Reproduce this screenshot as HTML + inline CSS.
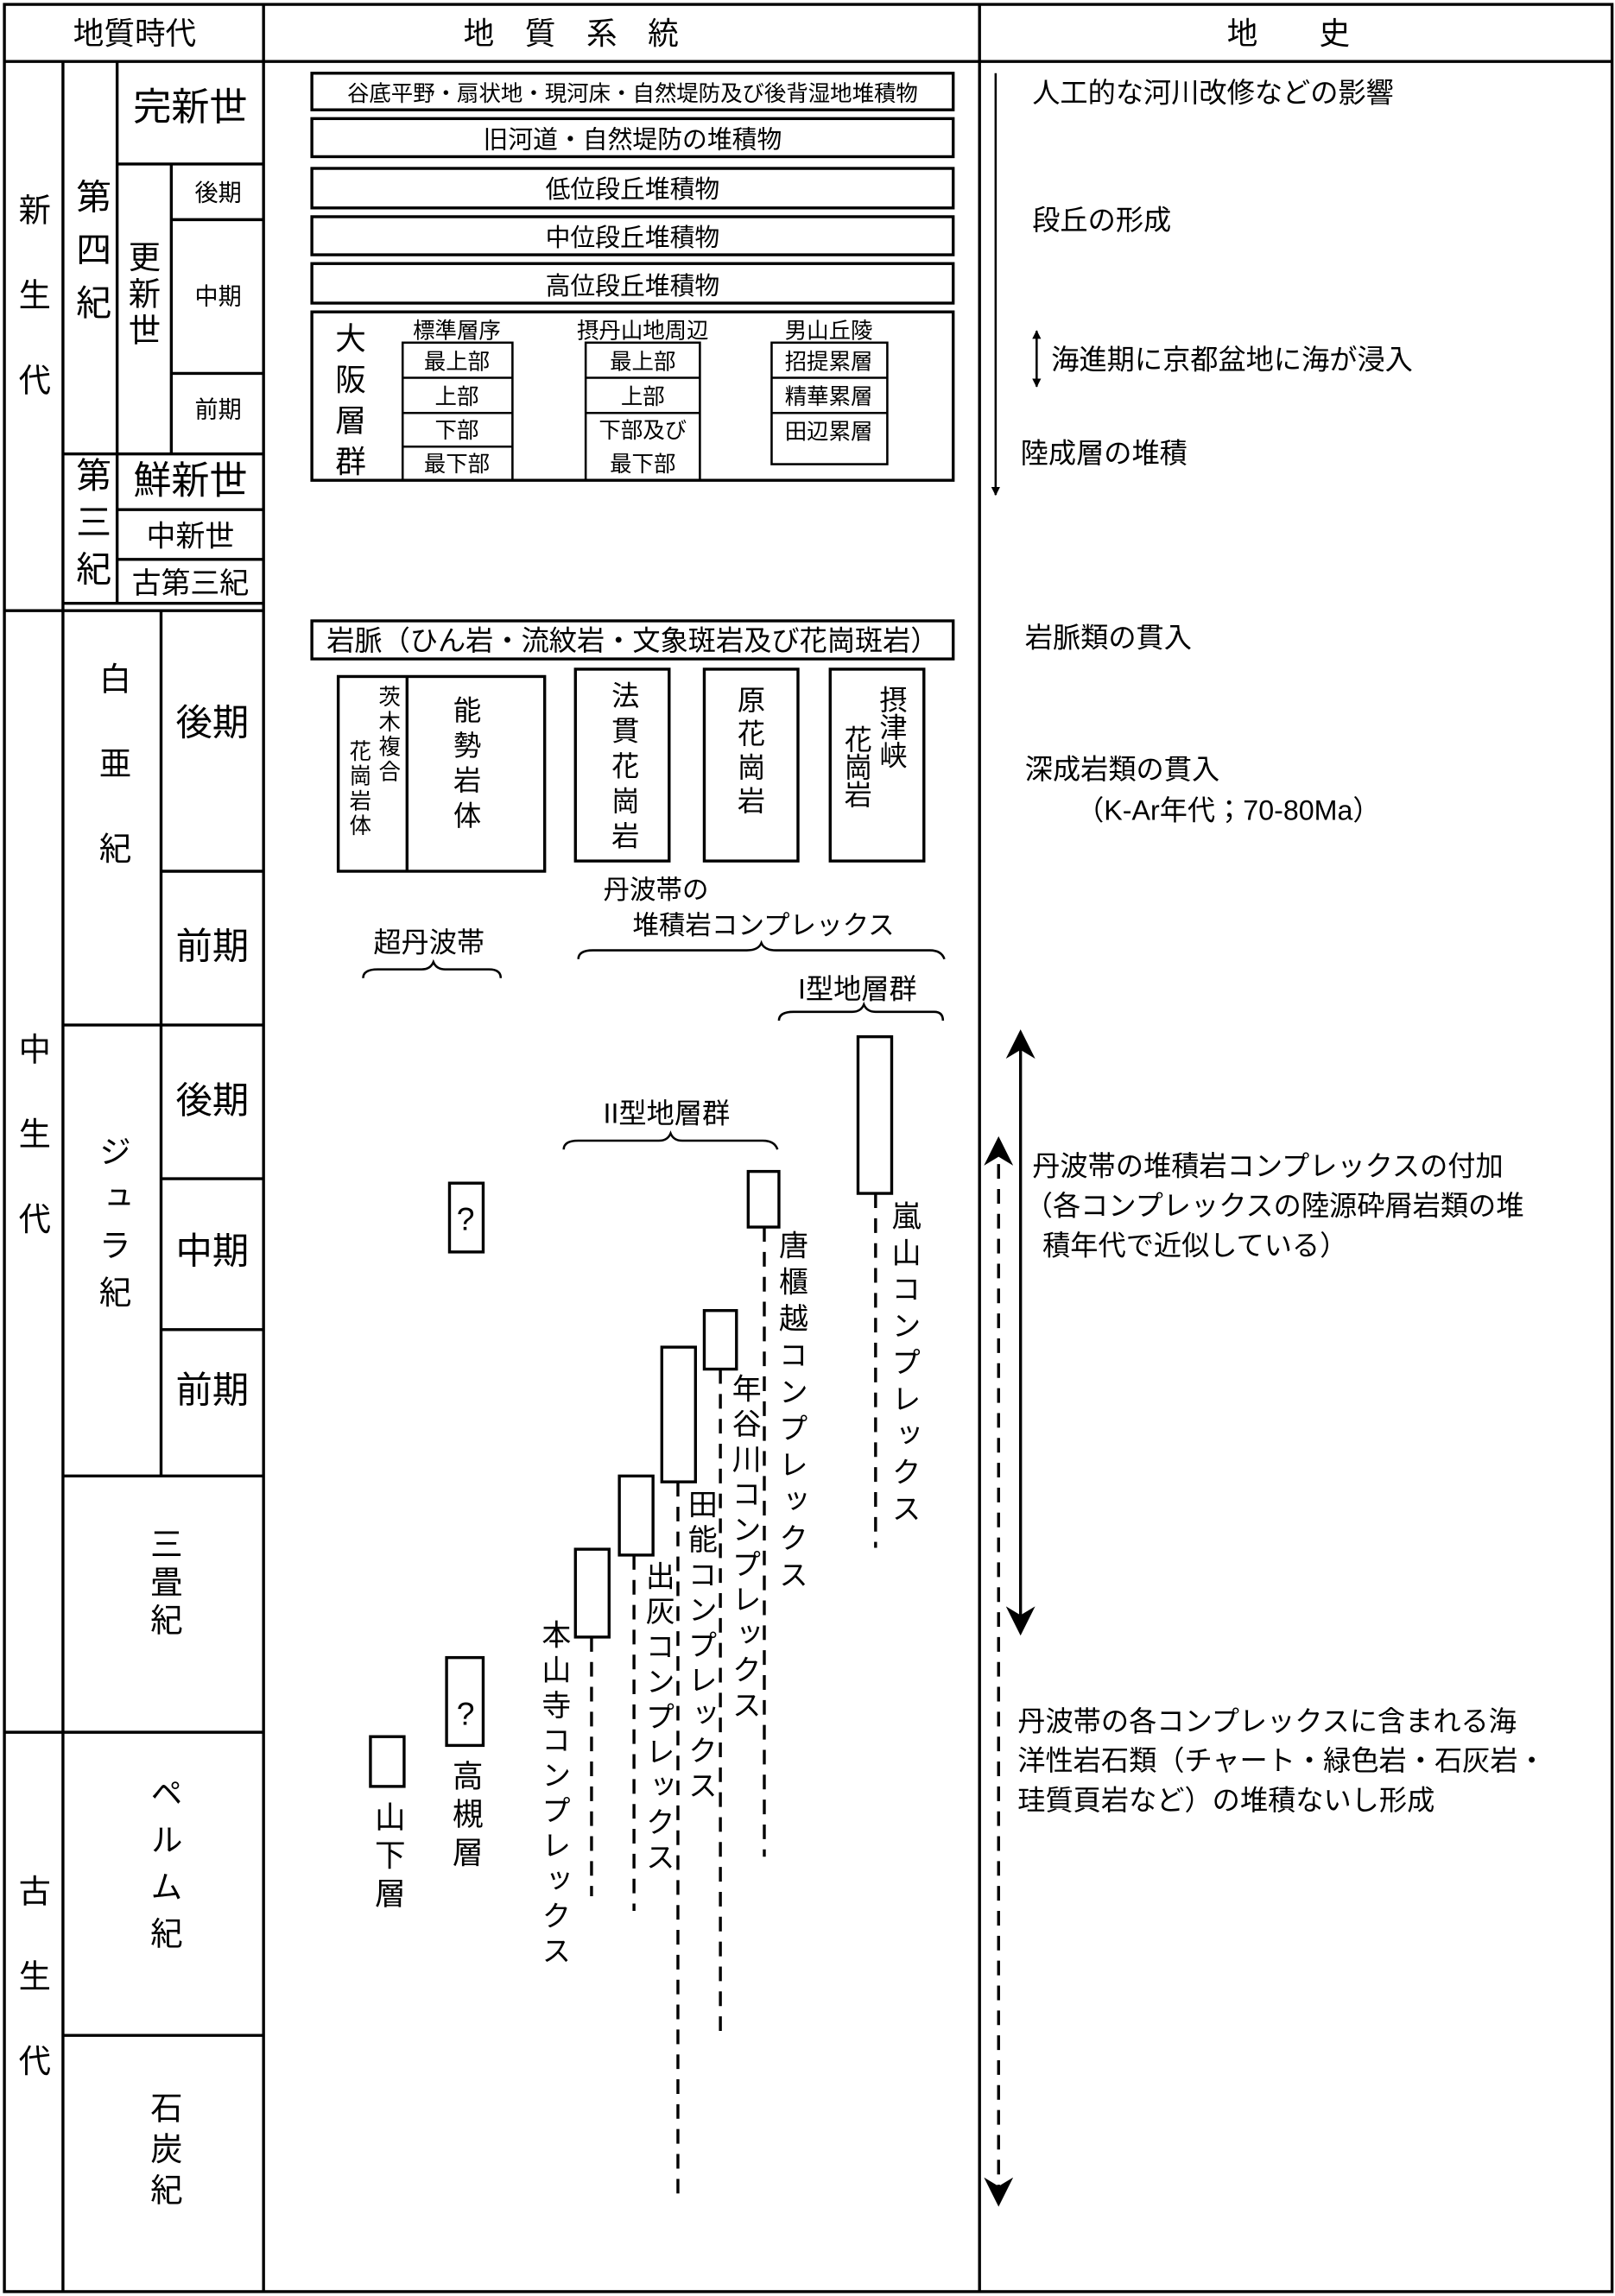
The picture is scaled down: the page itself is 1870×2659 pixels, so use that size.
<!DOCTYPE html>
<html><head><meta charset="utf-8"><style>
html,body{margin:0;padding:0;background:#fff}
svg{display:block}
text{font-family:"Liberation Sans","Noto Sans CJK JP",sans-serif;fill:#000}
.v{writing-mode:vertical-rl;text-anchor:start}
.c{text-anchor:middle}
</style></head><body>
<svg width="1870" height="2659" viewBox="0 0 1103 1568" preserveAspectRatio="none" xmlns="http://www.w3.org/2000/svg">
<defs>
<marker id="ah" viewBox="0 0 10 10" refX="9" refY="5" markerWidth="10" markerHeight="10" orient="auto-start-reverse"><path d="M0,0 L10,5 L0,10 L3,5z" fill="#000"/></marker>
<marker id="sh" viewBox="0 0 10 10" refX="9" refY="5" markerWidth="4" markerHeight="4" orient="auto-start-reverse"><path d="M0,0 L10,5 L0,10z" fill="#000"/></marker>
</defs>
<g fill="none" stroke="#000" stroke-width="2">
<rect x="3" y="3" width="1098" height="1562"/>
<line x1="3" y1="42" x2="1101" y2="42"/>
<line x1="180" y1="3" x2="180" y2="1565"/>
<line x1="669" y1="3" x2="669" y2="1565"/>
<line x1="43" y1="42" x2="43" y2="1565"/>
<line x1="3" y1="417" x2="180" y2="417"/>
<line x1="3" y1="1183" x2="180" y2="1183"/>
<line x1="80" y1="42" x2="80" y2="412"/>
<line x1="80" y1="112" x2="180" y2="112"/>
<line x1="117" y1="112" x2="117" y2="310"/>
<line x1="117" y1="150" x2="180" y2="150"/>
<line x1="117" y1="255" x2="180" y2="255"/>
<line x1="43" y1="310" x2="180" y2="310"/>
<line x1="80" y1="348" x2="180" y2="348"/>
<line x1="80" y1="382" x2="180" y2="382"/>
<line x1="43" y1="412" x2="180" y2="412"/>
<line x1="110" y1="417" x2="110" y2="1008"/>
<line x1="110" y1="595" x2="180" y2="595"/>
<line x1="43" y1="700" x2="180" y2="700"/>
<line x1="110" y1="805" x2="180" y2="805"/>
<line x1="110" y1="908" x2="180" y2="908"/>
<line x1="43" y1="1008" x2="180" y2="1008"/>
<line x1="43" y1="1390" x2="180" y2="1390"/>
<rect x="213" y="50" width="438" height="25"/>
<rect x="213" y="81" width="438" height="26"/>
<rect x="213" y="115" width="438" height="27"/>
<rect x="213" y="148" width="438" height="26"/>
<rect x="213" y="180" width="438" height="27"/>
<rect x="213" y="213" width="438" height="115"/>
<rect x="275" y="234" width="75" height="94" stroke-width="1.5"/>
<line x1="275" y1="258" x2="350" y2="258" stroke-width="1.5"/>
<line x1="275" y1="282" x2="350" y2="282" stroke-width="1.5"/>
<line x1="275" y1="305" x2="350" y2="305" stroke-width="1.5"/>
<rect x="400" y="234" width="78" height="94" stroke-width="1.5"/>
<line x1="400" y1="258" x2="478" y2="258" stroke-width="1.5"/>
<line x1="400" y1="282" x2="478" y2="282" stroke-width="1.5"/>
<rect x="527" y="234" width="79" height="83" stroke-width="1.5"/>
<line x1="527" y1="258" x2="606" y2="258" stroke-width="1.5"/>
<line x1="527" y1="282" x2="606" y2="282" stroke-width="1.5"/>
<rect x="213" y="424" width="438" height="26"/>
<rect x="231" y="462" width="141" height="133"/>
<line x1="278" y1="462" x2="278" y2="595"/>
<rect x="393" y="457" width="64" height="131"/>
<rect x="481" y="457" width="64" height="131"/>
<rect x="567" y="457" width="64" height="131"/>
<path d="M248,668 q0,-6 10,-6 h30 q6,0 8,-5 q2,5 8,5 h30 q8,0 8,6" stroke-width="1.5"/>
<path d="M395,655 q0,-6 10,-6 h105 q8,0 10,-5 q2,5 10,5 h105 q8,0 10,6" stroke-width="1.5"/>
<path d="M532,697 q0,-6 10,-6 h40 q6,0 8,-5 q2,5 8,5 h40 q6,0 6,6" stroke-width="1.5"/>
<path d="M385,785 q0,-6 10,-6 h55 q6,0 8,-5 q2,5 8,5 h55 q8,0 10,6" stroke-width="1.5"/>
<rect x="586" y="708" width="23" height="107"/>
<rect x="511" y="800" width="21" height="38"/>
<rect x="481" y="895" width="22" height="40"/>
<rect x="452" y="920" width="23" height="92"/>
<rect x="423" y="1008" width="23" height="54"/>
<rect x="393" y="1058" width="23" height="60"/>
<rect x="307" y="808" width="23" height="47"/>
<rect x="305" y="1132" width="25" height="60"/>
<rect x="253" y="1186" width="23" height="34"/>
<g stroke-dasharray="10,7">
<line x1="598" y1="815" x2="598" y2="1057"/>
<line x1="522" y1="838" x2="522" y2="1268"/>
<line x1="492" y1="935" x2="492" y2="1387"/>
<line x1="463" y1="1012" x2="463" y2="1505"/>
<line x1="433" y1="1062" x2="433" y2="1305"/>
<line x1="404" y1="1118" x2="404" y2="1295"/>
<line x1="682" y1="778" x2="682" y2="1505" marker-start="url(#ah)" marker-end="url(#ah)"/>
</g>
<line x1="680" y1="50" x2="680" y2="338" stroke-width="1.5" marker-end="url(#sh)"/>
<line x1="708" y1="226" x2="708" y2="264" stroke-width="1.5" marker-start="url(#sh)" marker-end="url(#sh)"/>
<line x1="697" y1="705" x2="697" y2="1115" marker-start="url(#ah)" marker-end="url(#ah)"/>
</g>
<g font-size="21">
<text x="92" y="30" class="c">地質時代</text>
<text x="390" y="30" class="c">地　質　系　統</text>
<text x="880" y="30" class="c">地　　史</text>
</g>
<g font-size="22">
<text x="22" y="132" class="v" letter-spacing="36">新生代</text>
<text x="22" y="705" class="v" letter-spacing="36">中生代</text>
<text x="22" y="1280" class="v" letter-spacing="36">古生代</text>
<text x="62" y="122" class="v" font-size="24" letter-spacing="12">第四紀</text>
<text x="62" y="312" class="v" font-size="24" letter-spacing="8">第三紀</text>
<text x="97" y="164" class="v" letter-spacing="3">更新世</text>
<text x="130" y="82" class="c" font-size="26">完新世</text>
<text x="130" y="337" class="c" font-size="26">鮮新世</text>
<text x="130" y="373" class="c" font-size="20">中新世</text>
<text x="130" y="405" class="c" font-size="20">古第三紀</text>
<text x="149" y="137" class="c" font-size="16">後期</text>
<text x="149" y="208" class="c" font-size="16">中期</text>
<text x="149" y="285" class="c" font-size="16">前期</text>
<text x="77" y="452" class="v" letter-spacing="36">白亜紀</text>
<text x="77" y="775" class="v" letter-spacing="10">ジュラ紀</text>
<text x="112" y="1043" class="v" letter-spacing="4">三畳紀</text>
<text x="112" y="1213" class="v" letter-spacing="10">ペルム紀</text>
<text x="112" y="1428" class="v" letter-spacing="6">石炭紀</text>
<text x="145" y="502" class="c" font-size="25">後期</text>
<text x="145" y="655" class="c" font-size="25">前期</text>
<text x="145" y="760" class="c" font-size="25">後期</text>
<text x="145" y="863" class="c" font-size="25">中期</text>
<text x="145" y="958" class="c" font-size="25">前期</text>
</g>
<g font-size="16">
<text x="432" y="69" class="c" font-size="15">谷底平野・扇状地・現河床・自然堤防及び後背湿地堆積物</text>
<text x="432" y="101" class="c" font-size="17">旧河道・自然堤防の堆積物</text>
<text x="432" y="135" class="c" font-size="17">低位段丘堆積物</text>
<text x="432" y="168" class="c" font-size="17">中位段丘堆積物</text>
<text x="432" y="201" class="c" font-size="17">高位段丘堆積物</text>
<text x="238" y="220" class="v" font-size="21" letter-spacing="7">大阪層群</text>
<text x="312" y="231" class="c" font-size="15">標準層序</text>
<text x="439" y="231" class="c" font-size="15">摂丹山地周辺</text>
<text x="566" y="231" class="c" font-size="15">男山丘陵</text>
<text x="312" y="252" class="c" font-size="15">最上部</text>
<text x="312" y="276" class="c" font-size="15">上部</text>
<text x="312" y="299" class="c" font-size="15">下部</text>
<text x="312" y="322" class="c" font-size="15">最下部</text>
<text x="439" y="252" class="c" font-size="15">最上部</text>
<text x="439" y="276" class="c" font-size="15">上部</text>
<text x="439" y="299" class="c" font-size="15">下部及び</text>
<text x="439" y="322" class="c" font-size="15">最下部</text>
<text x="566" y="252" class="c" font-size="15">招提累層</text>
<text x="566" y="276" class="c" font-size="15">精華累層</text>
<text x="566" y="300" class="c" font-size="15">田辺累層</text>
<text x="432" y="444" class="c" font-size="19">岩脈（ひん岩・流紋岩・文象斑岩及び花崗斑岩）</text>
<text x="265" y="468" class="v" font-size="15" letter-spacing="2">茨木複合</text>
<text x="245" y="505" class="v" font-size="15" letter-spacing="2">花崗岩体</text>
<text x="318" y="475" class="v" font-size="19" letter-spacing="5">能勢岩体</text>
<text x="426" y="465" class="v" font-size="19" letter-spacing="5">法貫花崗岩</text>
<text x="512" y="468" class="v" font-size="19" letter-spacing="4">原花崗岩</text>
<text x="609" y="468" class="v" font-size="19">摂津峡</text>
<text x="585" y="495" class="v" font-size="19">花崗岩</text>
<text x="293" y="650" class="c" font-size="19">超丹波帯</text>
<text x="412" y="614" font-size="18">丹波帯の</text>
<text x="432" y="638" font-size="18">堆積岩コンプレックス</text>
<text x="545" y="682" font-size="19">I型地層群</text>
<text x="412" y="767" font-size="19">II型地層群</text>
<text x="318" y="840" class="c" font-size="22">?</text>
<text x="318" y="1178" class="c" font-size="22">?</text>
<text x="617" y="820" class="v" font-size="20" letter-spacing="5">嵐山コンプレックス</text>
<text x="540" y="840" class="v" font-size="20" letter-spacing="5">唐櫃越コンプレックス</text>
<text x="508" y="938" class="v" font-size="20" letter-spacing="4">年谷川コンプレックス</text>
<text x="478" y="1017" class="v" font-size="20" letter-spacing="4">田能コンプレックス</text>
<text x="449" y="1066" class="v" font-size="20" letter-spacing="4">出灰コンプレックス</text>
<text x="378" y="1106" class="v" font-size="20" letter-spacing="4">本山寺コンプレックス</text>
<text x="318" y="1202" class="v" font-size="21" letter-spacing="5">高槻層</text>
<text x="265" y="1230" class="v" font-size="21" letter-spacing="5">山下層</text>
</g>
<g font-size="19">
<text x="705" y="70">人工的な河川改修などの影響</text>
<text x="705" y="157">段丘の形成</text>
<text x="718" y="252">海進期に京都盆地に海が浸入</text>
<text x="697" y="316">陸成層の堆積</text>
<text x="700" y="442">岩脈類の貫入</text>
<text x="700" y="532">深成岩類の貫入</text>
<text x="735" y="560">（K-Ar年代；70-80Ma）</text>
<text x="705" y="803">丹波帯の堆積岩コンプレックスの付加</text>
<text x="700" y="830">（各コンプレックスの陸源砕屑岩類の堆</text>
<text x="712" y="857">積年代で近似している）</text>
<text x="695" y="1182">丹波帯の各コンプレックスに含まれる海</text>
<text x="695" y="1209">洋性岩石類（チャート・緑色岩・石灰岩・</text>
<text x="695" y="1236">珪質頁岩など）の堆積ないし形成</text>
</g>
</svg>
</body></html>
